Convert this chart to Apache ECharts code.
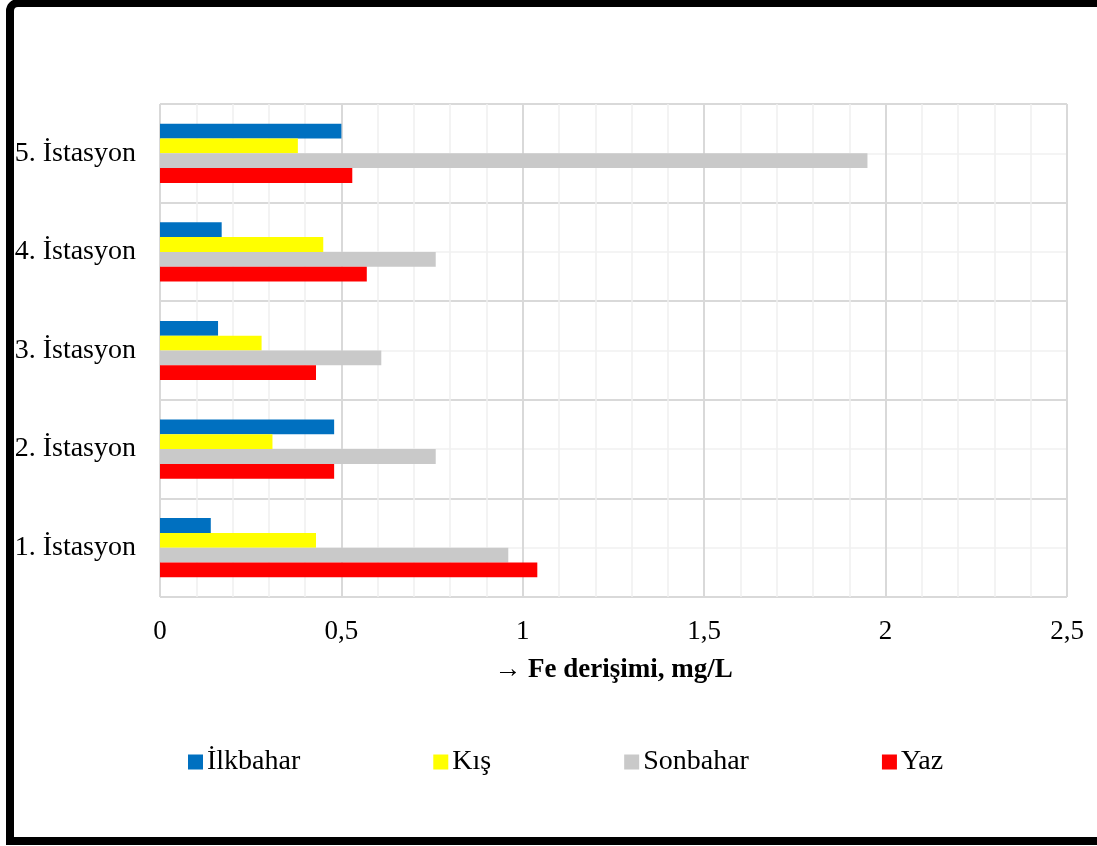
<!DOCTYPE html>
<html>
<head>
<meta charset="utf-8">
<script src="https://cdn.jsdelivr.net/npm/echarts@6/dist/echarts.min.js"></script>
<style>
  html, body { margin: 0; padding: 0; background: #fff; }
  #chart { width: 1097px; height: 846px; }
</style>
</head>
<body>
<div id="chart"></div>
<script>
// Fe concentration (mg/L) per station and season
const categories = ['1. İstasyon', '2. İstasyon', '3. İstasyon', '4. İstasyon', '5. İstasyon'];
const seasons = ['İlkbahar', 'Kış', 'Sonbahar', 'Yaz'];
const ilkbahar = [0.14, 0.48, 0.16, 0.17, 0.50];
const kis      = [0.43, 0.31, 0.28, 0.45, 0.38];
const sonbahar = [0.96, 0.76, 0.61, 0.76, 1.95];
const yaz      = [1.04, 0.48, 0.43, 0.57, 0.53];
const xTicks = [0, 0.5, 1, 1.5, 2, 2.5];

const colors = { 'İlkbahar': '#0070C0', 'Kış': '#FFFF00', 'Sonbahar': '#C9C9C9', 'Yaz': '#FF0000' };
const values = { 'İlkbahar': ilkbahar, 'Kış': kis, 'Sonbahar': sonbahar, 'Yaz': yaz };
const font = "'Liberation Serif', 'Times New Roman', serif";

const chart = echarts.init(document.getElementById('chart'), null, { renderer: 'canvas' });

const series = seasons.map(name => ({
  name: name,
  type: 'bar',
  yAxisIndex: 0,
  data: values[name],
  barGap: '0%',
  barCategoryGap: '40%',
  itemStyle: { color: colors[name] },
  emphasis: { disabled: true }
}));

chart.setOption({
  animation: false,
  backgroundColor: '#ffffff',
  textStyle: { fontFamily: font, color: '#000' },
  graphic: [{
    type: 'rect',
    shape: { x: 10, y: 3, width: 1200, height: 838, r: [8, 0, 0, 0] },
    style: { fill: 'none', stroke: '#000', lineWidth: 8 },
    silent: true,
    z: 100
  }],
  grid: { left: 160, right: 30, top: 104, bottom: 249, containLabel: false },
  legend: {
    data: seasons,
    left: 188,
    top: 748,
    padding: 0,
    icon: 'rect',
    itemWidth: 15,
    itemHeight: 15,
    itemGap: 133,
    textStyle: { fontFamily: font, fontSize: 28, color: '#000', padding: [0, 0, 0, -1] },
    selectedMode: false
  },
  xAxis: {
    type: 'value',
    min: xTicks[0],
    max: xTicks[xTicks.length - 1],
    interval: xTicks[1] - xTicks[0],
    axisLine: { show: false },
    axisTick: { show: false },
    axisLabel: {
      fontFamily: font,
      fontSize: 27,
      color: '#000',
      margin: 21,
      formatter: v => String(v).replace('.', ',')
    },
    splitLine: { show: true, lineStyle: { color: '#d9d9d9', width: 2 } },
    minorTick: { show: false, splitNumber: 5 },
    minorSplitLine: { show: true, lineStyle: { color: '#f0f0f0', width: 1.5 } },
    name: '→ Fe derişimi, mg/L',
    nameLocation: 'middle',
    nameGap: 60,
    nameTextStyle: { fontFamily: font, fontSize: 27, fontWeight: 'bold', color: '#000' }
  },
  yAxis: [{
    type: 'category',
    data: categories,
    axisLine: { show: false },
    axisTick: { show: false },
    axisLabel: { fontFamily: font, fontSize: 28, color: '#000', margin: 24 },
    splitLine: { show: true, lineStyle: { color: '#d9d9d9', width: 2 } }
  }, {
    // mid-band guide lines inside each station row
    type: 'value',
    min: 0,
    max: categories.length * 2,
    interval: 1,
    position: 'left',
    axisLine: { show: false },
    axisTick: { show: false },
    axisLabel: { show: false },
    splitLine: { show: true, lineStyle: { color: ['rgba(0,0,0,0)', '#f0f0f0'], width: 1.5 } }
  }],
  series: series
});
</script>
</body>
</html>
